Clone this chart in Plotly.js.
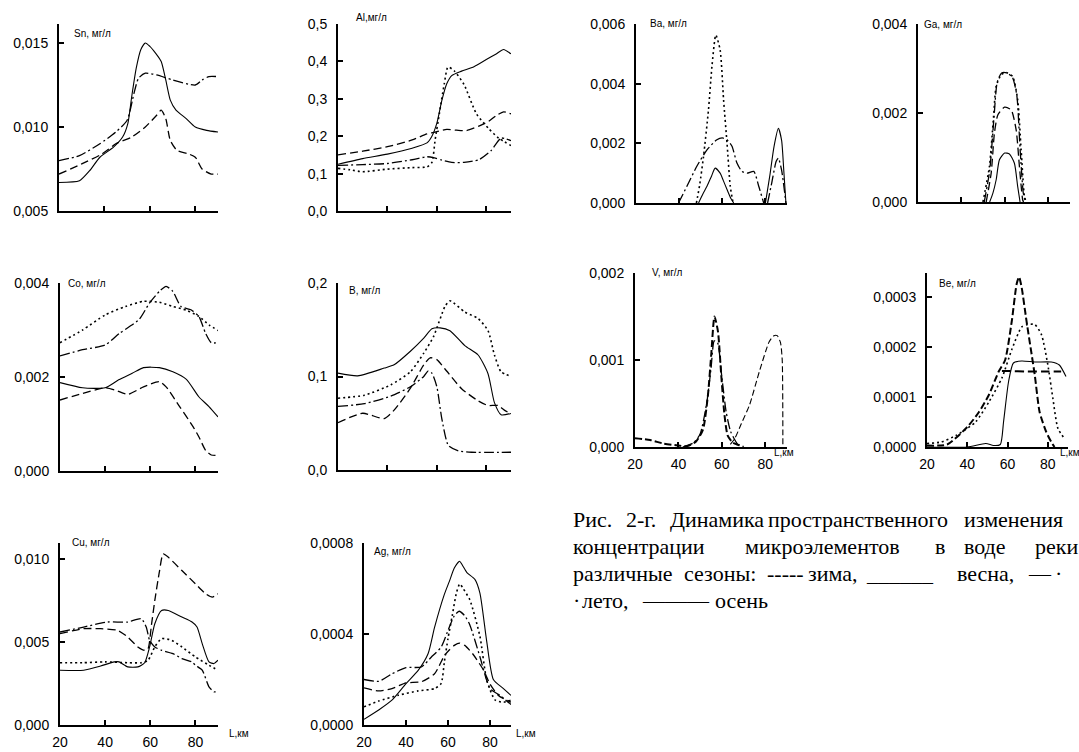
<!DOCTYPE html>
<html><head><meta charset="utf-8">
<script src="https://cdn.plot.ly/plotly-3.0.1.min.js"></script>
<style>html,body{margin:0;padding:0;background:#fff;overflow:hidden}</style>
</head><body>
<div id="chart" style="width:1079px;height:752px"></div>
<script>
// ---------- DATA (km along river, concentration mg/l) ----------
// Sn
const snSpringX = [20, 29, 33.5, 38, 44, 48, 50.3, 52, 54, 56, 58, 60, 62.5, 65, 67, 69, 71.5, 76, 80, 85, 90];
const snSpringY = [0.0067, 0.0068, 0.0074, 0.0082, 0.0088, 0.0094, 0.0102, 0.0118, 0.0135, 0.0146, 0.0150, 0.0148, 0.0144, 0.0139, 0.0128, 0.0116, 0.0110, 0.0105, 0.0100, 0.0098, 0.0097];
const snSummerX = [20, 29, 38, 45, 50, 53, 55, 58, 63, 70, 80, 83, 86, 90];
const snSummerY = [0.0080, 0.0083, 0.0090, 0.0097, 0.0104, 0.0120, 0.0129, 0.0132, 0.0131, 0.0128, 0.0125, 0.0128, 0.0130, 0.0130];
const snAutumnX = [20, 30, 39, 45, 52, 58, 63, 65, 67, 69, 72, 77, 80, 83, 87, 90];
const snAutumnY = [0.0072, 0.0078, 0.0084, 0.0090, 0.0094, 0.0100, 0.0107, 0.0110, 0.0105, 0.0092, 0.0086, 0.0084, 0.0082, 0.0075, 0.0072, 0.0072];
// Al
const alSpringX = [20, 30, 40, 50, 56, 58, 60, 62, 64, 66, 70, 75, 80, 84, 87, 90];
const alSpringY = [0.125, 0.14, 0.152, 0.168, 0.182, 0.20, 0.235, 0.295, 0.34, 0.362, 0.374, 0.386, 0.405, 0.42, 0.432, 0.42];
const alWinterX = [20, 25, 30, 40, 50, 56, 58, 59.3, 61, 63, 64.5, 67, 71, 76, 81, 85, 90];
const alWinterY = [0.114, 0.11, 0.105, 0.112, 0.116, 0.118, 0.13, 0.19, 0.26, 0.34, 0.385, 0.375, 0.338, 0.26, 0.22, 0.195, 0.175];
const alAutumnX = [20, 30, 40, 50, 56, 60, 64, 68, 72, 77, 81, 84, 87, 90];
const alAutumnY = [0.15, 0.16, 0.172, 0.19, 0.206, 0.212, 0.218, 0.216, 0.215, 0.227, 0.24, 0.255, 0.265, 0.26];
const alSummerX = [20, 30, 40, 50, 56, 59, 62, 66, 71, 77, 82, 86, 90];
const alSummerY = [0.122, 0.124, 0.127, 0.137, 0.145, 0.142, 0.136, 0.13, 0.13, 0.137, 0.162, 0.195, 0.188];
// Co
const coWinterX = [20, 30, 40, 49, 57, 64, 70, 76, 81.5, 86, 90];
const coWinterY = [0.00273, 0.0030, 0.00332, 0.0035, 0.00361, 0.00359, 0.0035, 0.00342, 0.00329, 0.00311, 0.00299];
const coSummerX = [20, 30, 40, 46.4, 55, 59.6, 64, 67, 70, 73.6, 78, 81.5, 84.5, 87, 90];
const coSummerY = [0.00245, 0.00258, 0.00268, 0.00293, 0.00322, 0.00357, 0.00382, 0.00393, 0.00382, 0.0035, 0.00343, 0.00329, 0.00293, 0.00273, 0.00273];
const coSpringX = [20, 30, 40, 46, 52, 57, 64, 70, 76, 81.5, 86, 90];
const coSpringY = [0.00188, 0.00177, 0.00177, 0.00194, 0.00208, 0.0022, 0.0022, 0.00211, 0.00195, 0.00158, 0.00137, 0.00115];
const coAutumnX = [20, 30, 40, 44.6, 50, 57, 64, 67, 73, 79, 81.5, 84.5, 87, 90];
const coAutumnY = [0.00151, 0.00165, 0.00177, 0.00172, 0.00163, 0.00179, 0.0019, 0.00179, 0.00137, 0.00094, 0.00073, 0.00044, 0.00034, 0.00033];
// B
const bSpringX = [20, 28, 38.7, 42.7, 49.3, 54.7, 58, 61.3, 65.3, 71.3, 76.7, 80.7, 83.3, 86, 90];
const bSpringY = [0.1036, 0.1007, 0.109, 0.1125, 0.127, 0.141, 0.151, 0.152, 0.149, 0.133, 0.123, 0.103, 0.072, 0.059, 0.0605];
const bWinterX = [20, 30.7, 41.3, 49.3, 54.7, 58.7, 63.3, 65.3, 71.3, 76.7, 80.7, 83.3, 86, 90];
const bWinterY = [0.0768, 0.080, 0.091, 0.105, 0.125, 0.143, 0.175, 0.181, 0.169, 0.162, 0.149, 0.123, 0.105, 0.100];
const bSummerX = [20, 30.7, 41.3, 49.3, 54.7, 56.5, 58, 60, 62, 64.7, 68.7, 74, 90];
const bSummerY = [0.068, 0.071, 0.079, 0.089, 0.100, 0.106, 0.1036, 0.089, 0.055, 0.026, 0.0205, 0.019, 0.019];
const bAutumnX = [20, 30, 38.7, 42.7, 49.3, 54.7, 57.3, 60, 63.3, 70, 76.7, 80.7, 84.7, 87.3, 90];
const bAutumnY = [0.0507, 0.0607, 0.055, 0.064, 0.0875, 0.1125, 0.120, 0.118, 0.108, 0.087, 0.074, 0.069, 0.069, 0.064, 0.060];
// Cu
const cuSpringX = [20, 30.5, 38, 44, 46.2, 50, 54.5, 57.5, 59.7, 62, 65, 68, 74, 78.5, 80.7, 83, 86, 88.2, 90];
const cuSpringY = [0.0033, 0.0033, 0.00355, 0.0038, 0.0038, 0.0035, 0.0035, 0.00375, 0.0047, 0.0061, 0.0069, 0.0069, 0.0065, 0.0062, 0.0059, 0.0049, 0.0038, 0.0037, 0.0039];
const cuWinterX = [20, 30, 40, 50, 56, 59, 62, 65, 69.5, 74, 80, 86, 90];
const cuWinterY = [0.00375, 0.00375, 0.0038, 0.00375, 0.00375, 0.0039, 0.0047, 0.0052, 0.0051, 0.0047, 0.0041, 0.0036, 0.0033];
const cuSummerX = [20, 30.5, 41, 50, 56, 58.2, 59.7, 62, 65, 70, 74, 78.5, 80, 83, 86, 88.2, 90];
const cuSummerY = [0.0056, 0.0059, 0.0062, 0.0062, 0.0064, 0.0059, 0.0051, 0.0047, 0.0045, 0.0043, 0.0040, 0.0038, 0.0036, 0.0033, 0.0023, 0.0020, 0.0020];
const cuAutumnX = [20, 30.5, 38, 45.5, 50, 54.5, 57.5, 59, 60.5, 62, 64, 65.7, 68, 74, 80, 84.5, 87.5, 90];
const cuAutumnY = [0.0055, 0.0058, 0.0058, 0.0057, 0.0053, 0.0047, 0.0045, 0.0046, 0.0060, 0.0075, 0.0092, 0.0103, 0.0101, 0.0093, 0.0085, 0.0079, 0.0077, 0.0079];
// Ag
const agSpringX = [20, 27, 33.3, 40, 45.8, 50.5, 53.6, 58.3, 60.6, 63, 65.5, 67, 69, 72.8, 75.2, 78.4, 81.6, 86.4, 90];
const agSpringY = [0.000025, 0.000066, 0.000109, 0.000182, 0.00024, 0.000313, 0.000429, 0.000575, 0.00063, 0.00069, 0.00072, 0.0007, 0.00067, 0.00064, 0.00058, 0.00037, 0.0002, 0.00016, 0.00013];
const agWinterX = [20, 27, 36.4, 45.8, 53.6, 56.7, 58.3, 60, 62, 64, 65.6, 67.2, 70.4, 75.2, 78.4, 82.4, 86.4, 90];
const agWinterY = [0.00008, 0.000105, 0.000131, 0.00015, 0.00016, 0.000182, 0.00028, 0.00038, 0.00048, 0.00058, 0.00062, 0.0006, 0.00055, 0.00039, 0.0002, 0.00011, 0.0001, 0.00011];
const agSummerX = [20, 27, 33.3, 40, 47.3, 52, 56.7, 60.6, 63, 65.3, 68, 70.4, 75.2, 80, 84.8, 90];
const agSummerY = [0.0002, 0.000192, 0.000225, 0.000252, 0.000255, 0.000298, 0.000342, 0.00043, 0.00048, 0.0005, 0.00048, 0.00044, 0.0003, 0.00016, 0.00013, 0.00009];
const agAutumnX = [20, 27, 33.3, 40, 47.3, 53.6, 58.3, 60.6, 63, 65.5, 68, 72, 77, 80, 84, 90];
const agAutumnY = [0.000163, 0.00015, 0.00016, 0.000185, 0.00019, 0.000225, 0.000305, 0.00033, 0.00035, 0.00036, 0.00035, 0.00031, 0.00024, 0.00018, 0.00013, 0.0001];
// Ba
const baWinterX = [48, 49.5, 51.3, 53.6, 55.2, 57, 59, 60.6, 62.2, 63.7, 65];
const baWinterY = [0, 0.0006, 0.00156, 0.00312, 0.00457, 0.00563, 0.00513, 0.00346, 0.002, 0.00056, 0];
const baSpringX = [49, 51, 52.9, 55, 56.7, 59, 60.5, 62.2, 64, 65.3, null, 80, 82, 84, 86, 87.5, 88.5, 89.5];
const baSpringY = [0, 0.0003, 0.00056, 0.0009, 0.00117, 0.001, 0.00075, 0.00045, 0.00015, 0, null, 0, 0.0009, 0.0019, 0.0025, 0.0021, 0.0011, 0];
const baSummerX = [39.7, 43.6, 48.2, 52.9, 57.5, 60, 62.2, 64.5, 66.8, 69.1, 71.5, 74.6, 76.9, 79.2, null, 81, 83, 85, 86, 87.5, 89.5];
const baSummerY = [0, 0.00056, 0.00123, 0.00178, 0.00212, 0.00218, 0.00212, 0.0019, 0.00134, 0.00106, 0.001, 0.00106, 0.00056, 0, null, 0, 0.0007, 0.0014, 0.0015, 0.0011, 0];
// Ga
const gaWinterX = [49.9, 52.9, 54.8, 56, 58.3, 60.6, 63.6, 65.9, 67.5, 69, 69.8];
const gaWinterY = [0, 0.0008, 0.00192, 0.0026, 0.00286, 0.00291, 0.00282, 0.0023, 0.00117, 0.00013, 0];
const gaSummerX = [50.5, 53, 55, 56.5, 58.5, 61, 63.5, 65.5, 67, 68.5, 69.5];
const gaSummerY = [0, 0.0007, 0.0019, 0.0027, 0.0029, 0.0029, 0.0028, 0.0024, 0.0012, 0.0002, 0];
const gaAutumnX = [51.4, 53.7, 55.2, 56.8, 59.9, 62.9, 65.2, 66.7, 68.2, 68.6];
const gaAutumnY = [0, 0.00065, 0.00155, 0.00196, 0.00213, 0.00207, 0.00162, 0.0008, 0.00005, 0];
const gaSpringX = [53, 54.5, 56, 57.5, 59.9, 62.1, 64.4, 65.9, 67];
const gaSpringY = [0, 0.0002, 0.0005, 0.00095, 0.0011, 0.00108, 0.00087, 0.00035, 0];
// V
const vAutumnX = [20, 27, 33, 39, 44, 48, 51.3, 53.6, 55.1, 56.6, 58.2, 59.7, 61.2, 62.7, 65, 68, 70];
const vAutumnY = [0.0001, 0.00008, 0.00004, 0.00002, 0.00001, 0.00006, 0.0002, 0.0006, 0.00106, 0.0015, 0.00133, 0.00083, 0.00037, 0.00013, 0.00005, 0.00002, 0];
const vSummerX = [42, 47, 50, 53, 55, 56.5, 58, 60, 62, 64, 66, 68];
const vSummerY = [0, 0.00005, 0.00015, 0.0005, 0.0009, 0.00122, 0.0012, 0.0008, 0.0004, 0.00018, 0.00008, 0];
const vWinterX = [63.9, 66, 69, 72.7, 77.3, 81.8, 84, 85.5, 87, 87.8, 88.1];
const vWinterY = [0.00003, 0.0001, 0.00027, 0.00048, 0.00087, 0.00121, 0.00128, 0.00128, 0.0012, 0.001, 0];
// Be
const beAutumnX = [20, 30, 40, 45.8, 50.7, 55.6, 58.8, 62.1, 64.5, 65.7, 67, 69.4, 73.5, 75.9, 79.2, 81.7, 83.3];
const beAutumnY = [0.000003, 0.000005, 0.00004, 0.00007, 0.000104, 0.000151, 0.000174, 0.000252, 0.000326, 0.00034, 0.000319, 0.000252, 0.000144, 0.00007, 0.00003, 0.00001, 0];
const beWinterX = [20, 27, 34.4, 44.1, 50.7, 57.2, 62.1, 67, 70, 73.5, 76.8, 80, 82.5, 85, 88.2];
const beWinterY = [0.000007, 0.00001, 0.000023, 0.00005, 0.00009, 0.000138, 0.000195, 0.00024, 0.000245, 0.000245, 0.000225, 0.000164, 0.000097, 0.000037, 0.000017];
const beSpringX = [20, 40, 49.2, 53, 56.4, 58, 60.5, 62.9, 67, 73.5, 81.7, 85.7, 89];
const beSpringY = [0, 0, 0.000007, 0.000003, 0.000005, 0.00005, 0.000131, 0.000168, 0.000172, 0.00017, 0.00017, 0.000164, 0.000141];
const beSummerX = [57.2, 60, 70, 80, 86.6];
const beSummerY = [0.000152, 0.000152, 0.000151, 0.000151, 0.000151];

// tick values / labels
const xTickVals = [20, 40, 60, 80];
const xTickText = ['20', '40', '60', '80'];
const snTicks = [0.005, 0.010, 0.015], snTickText = ['0,005', '0,010', '0,015'];
const alTicks = [0, 0.1, 0.2, 0.3, 0.4, 0.5], alTickText = ['0,0', '0,1', '0,2', '0,3', '0,4', '0,5'];
const coTicks = [0, 0.002, 0.004], coTickText = ['0,000', '0,002', '0,004'];
const bTicks = [0, 0.1, 0.2], bTickText = ['0,0', '0,1', '0,2'];
const cuTicks = [0, 0.005, 0.010], cuTickText = ['0,000', '0,005', '0,010'];
const agTicks = [0, 0.0004, 0.0008], agTickText = ['0,0000', '0,0004', '0,0008'];
const baTicks = [0, 0.002, 0.004, 0.006], baTickText = ['0,000', '0,002', '0,004', '0,006'];
const gaTicks = [0, 0.002, 0.004], gaTickText = ['0,000', '0,002', '0,004'];
const vTicks = [0, 0.001, 0.002], vTickText = ['0,000', '0,001', '0,002'];
const beTicks = [0, 0.0001, 0.0002, 0.0003], beTickText = ['0,0000', '0,0001', '0,0002', '0,0003'];

// ---------- STYLE / LAYOUT ----------
const W = 1079, H = 752;
const ST = {
  winter: {dash: '2px,3px', width: 1.6},
  spring: {dash: 'solid', width: 1.1},
  summer: {dash: '10px,3px,2px,3px', width: 1.3},
  autumn: {dash: '8px,4px', width: 1.3},
  autumnThick: {dash: '7px,3px', width: 2},
  dashThin: {dash: '6px,3px', width: 1.1},
  flatThick: {dash: '9px,4px', width: 2}
};

const panels = [
  {title: 'Sn, мг/л', tx: 72, ty: 33, x0: 59, x1: 218, yt: 24, yb: 211, yr: [0.005, 0.01613], tv: snTicks, tt: snTickText, xl: false,
   s: [[snSummerX, snSummerY, 'summer'], [snAutumnX, snAutumnY, 'autumn'], [snSpringX, snSpringY, 'spring']]},
  {title: 'Al,мг/л', tx: 354, ty: 17, x0: 338, x1: 511, yt: 24, yb: 211, yr: [0, 0.5], tv: alTicks, tt: alTickText, xl: false,
   s: [[alWinterX, alWinterY, 'winter'], [alSummerX, alSummerY, 'summer'], [alAutumnX, alAutumnY, 'autumn'], [alSpringX, alSpringY, 'spring']]},
  {title: 'Co, мг/л', tx: 66, ty: 283, x0: 60, x1: 218, yt: 283, yb: 471, yr: [0, 0.004], tv: coTicks, tt: coTickText, xl: false,
   s: [[coWinterX, coWinterY, 'winter'], [coSummerX, coSummerY, 'summer'], [coAutumnX, coAutumnY, 'autumn'], [coSpringX, coSpringY, 'spring']]},
  {title: 'B, мг/л', tx: 347, ty: 290, x0: 338, x1: 511, yt: 283, yb: 470, yr: [0, 0.2], tv: bTicks, tt: bTickText, xl: false,
   s: [[bWinterX, bWinterY, 'winter'], [bSummerX, bSummerY, 'summer'], [bAutumnX, bAutumnY, 'autumn'], [bSpringX, bSpringY, 'spring']]},
  {title: 'Cu, мг/л', tx: 70, ty: 542, x0: 60, x1: 218, yt: 543, yb: 725, yr: [0, 0.01096], tv: cuTicks, tt: cuTickText, xl: true, lx: 227, ly: 733,
   s: [[cuWinterX, cuWinterY, 'winter'], [cuSummerX, cuSummerY, 'summer'], [cuAutumnX, cuAutumnY, 'autumn'], [cuSpringX, cuSpringY, 'spring']]},
  {title: 'Ag, мг/л', tx: 372, ty: 551, x0: 364, x1: 511, yt: 543, yb: 725, yr: [0, 0.0008], tv: agTicks, tt: agTickText, xl: true, lx: 514, ly: 733,
   s: [[agWinterX, agWinterY, 'winter'], [agSummerX, agSummerY, 'summer'], [agAutumnX, agAutumnY, 'autumn'], [agSpringX, agSpringY, 'spring']]},
  {title: 'Ba, мг/л', tx: 648, ty: 23, x0: 636, x1: 787, yt: 24, yb: 203, yr: [0, 0.006], tv: baTicks, tt: baTickText, xl: false,
   s: [[baWinterX, baWinterY, 'winter'], [baSummerX, baSummerY, 'summer'], [baSpringX, baSpringY, 'spring']]},
  {title: 'Ga, мг/л', tx: 922, ty: 25, x0: 918, x1: 1070, yt: 24, yb: 202, yr: [0, 0.004], tv: gaTicks, tt: gaTickText, xl: false,
   s: [[gaWinterX, gaWinterY, 'winter'], [gaSummerX, gaSummerY, 'summer'], [gaAutumnX, gaAutumnY, 'autumn'], [gaSpringX, gaSpringY, 'spring']]},
  {title: 'V, мг/л', tx: 650, ty: 273, x0: 635, x1: 787, yt: 273, yb: 447, yr: [0, 0.002], tv: vTicks, tt: vTickText, xl: true, lx: 772, ly: 452,
   s: [[vAutumnX, vAutumnY, 'autumnThick'], [vSummerX, vSummerY, 'summer'], [vWinterX, vWinterY, 'dashThin']]},
  {title: 'Be, мг/л', tx: 937, ty: 283, x0: 927, x1: 1068, yt: 273, yb: 447, yr: [0, 0.000348], tv: beTicks, tt: beTickText, xl: true, lx: 1058, ly: 452,
   s: [[beWinterX, beWinterY, 'winter'], [beAutumnX, beAutumnY, 'autumnThick'], [beSummerX, beSummerY, 'flatThick'], [beSpringX, beSpringY, 'spring']]}
];

const FONT = 'Liberation Sans, Arial, sans-serif';
const traces = [];
const layout = {
  width: W, height: H, margin: {l: 0, r: 0, t: 0, b: 0},
  paper_bgcolor: '#fff', plot_bgcolor: 'rgba(0,0,0,0)',
  showlegend: false, hovermode: false, annotations: []
};

panels.forEach((p, idx) => {
  const n = idx + 1, sfx = n === 1 ? '' : String(n);
  layout['xaxis' + sfx] = {
    domain: [p.x0 / W, p.x1 / W], range: [20, 90], anchor: 'y' + sfx,
    showline: true, linecolor: '#000', linewidth: 2, showgrid: false, zeroline: false,
    ticks: 'inside', ticklen: 5, tickwidth: 2, tickcolor: '#000',
    tickmode: 'array', tickvals: p.xl ? xTickVals : xTickVals.slice(1), ticktext: p.xl ? xTickText : xTickText.slice(1),
    showticklabels: p.xl, ticklabelstandoff: 3,
    tickfont: {family: FONT, size: 14, color: '#000'}, fixedrange: true
  };
  layout['yaxis' + sfx] = {
    domain: [1 - p.yb / H, 1 - p.yt / H], range: p.yr, anchor: 'x' + sfx,
    showline: true, linecolor: '#000', linewidth: 2, showgrid: false, zeroline: false,
    ticks: 'inside', ticklen: 5, tickwidth: 2, tickcolor: '#000',
    tickmode: 'array', tickvals: p.tv, ticktext: p.tt, ticklabelstandoff: 6,
    tickfont: {family: FONT, size: 14, color: '#000'}, fixedrange: true
  };
  p.s.forEach(([xs, ys, st]) => {
    traces.push({
      type: 'scatter', mode: 'lines', x: xs, y: ys, xaxis: 'x' + sfx, yaxis: 'y' + sfx,
      line: {color: '#000', width: ST[st].width, dash: ST[st].dash, shape: 'spline', smoothing: 0.6},
      connectgaps: false, hoverinfo: 'skip'
    });
  });
  layout.annotations.push({xref: 'paper', yref: 'paper', x: p.tx / W, y: 1 - p.ty / H, xanchor: 'left', yanchor: 'middle',
    text: p.title, showarrow: false, font: {family: FONT, size: 10, color: '#000'}});
  if (p.xl) {
    layout.annotations.push({xref: 'paper', yref: 'paper', x: p.lx / W, y: 1 - p.ly / H, xanchor: 'left', yanchor: 'middle',
      text: 'L,км', showarrow: false, font: {family: FONT, size: 10, color: '#000'}});
  }
});

// caption words (justified text), [word, left px]
const capLines = [
  [['Рис.', 571], ['2-г.', 624], ['Динамика', 668], ['пространственного', 766], ['изменения', 962]],
  [['концентрации', 571], ['микроэлементов', 743], ['в', 933], ['воде', 962], ['реки', 1033]],
  [['различные', 571], ['сезоны:', 682], ['-----', 765], ['зима,', 806], ['______', 864], ['весна,', 955], ['—', 1026], ['·', 1053]],
  [['·', 571], ['лето,', 580], ['———', 640], ['осень', 713]]
];
const capY = [519, 546, 573, 600];
capLines.forEach((line, li) => {
  line.forEach(([w, px]) => {
    layout.annotations.push({xref: 'paper', yref: 'paper', x: px / W, y: 1 - capY[li] / H, xanchor: 'left', yanchor: 'middle',
      text: w, showarrow: false, font: {family: 'Liberation Serif, Times New Roman, serif', size: 22, color: '#000'}});
  });
});

Plotly.newPlot('chart', traces, layout, {staticPlot: true, displayModeBar: false});
</script>
</body></html>
